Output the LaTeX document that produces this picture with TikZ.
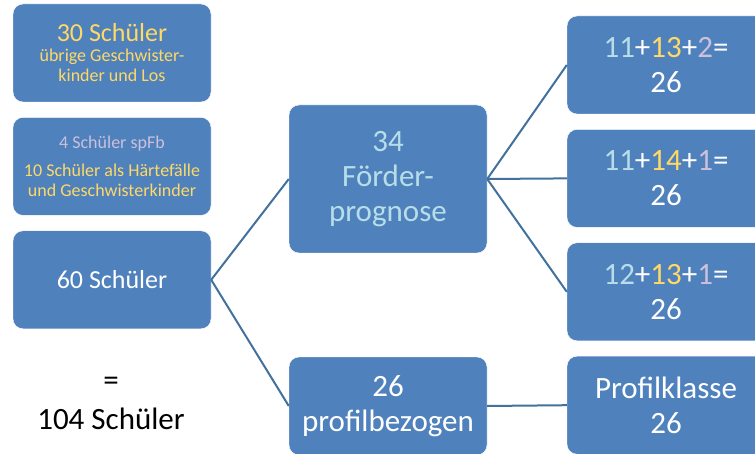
\documentclass[tikz,border=0pt]{standalone}
\usepackage{fontspec}
\setmainfont{Carlito}
\usepackage{xcolor}
\usetikzlibrary{positioning}
\definecolor{boxblue}{HTML}{4F81BD}
\definecolor{lineblue}{HTML}{41719C}
\definecolor{gold}{HTML}{FFD966}
\definecolor{aqua}{HTML}{B7DEE8}
\definecolor{lilac}{HTML}{CCC0DA}

\begin{document}
\begin{tikzpicture}[x=1pt, y=1pt, node distance=15pt, box/.style={rectangle, rounded corners=10pt, fill=boxblue, draw=white, thin, minimum width=198pt, minimum height=98pt, align=center, text=white, inner sep=2pt, font=\fontsize{31}{35}\selectfont}, small/.style={font=\fontsize{18}{20}\selectfont}, link/.style={draw=lineblue, line width=2pt}]
        \path[use as bounding box, clip] (0,0) rectangle (755,-454);

        % linke Spalte
        \node[box, small, text=gold] (a) at (112,-53) {{\fontsize{26}{28}\selectfont 30 Schüler}\\übrige Geschwister-\\kinder und Los};
        \node[box, small, below=of a] (b) {\textcolor{lilac}{4 Schüler spFb}\\[8pt]\textcolor{gold}{10 Schüler als Härtefälle}\\\textcolor{gold}{und Geschwisterkinder}};
        \node[box, below=of b, font=\fontsize{26}{28}\selectfont] (c) {60 Schüler};
        \node (sum) at (111,-403) [align=center, font=\fontsize{31}{39}\selectfont] {=\\104 Schüler};

        % mittlere Spalte
        \node[box, minimum height=148pt, text=aqua] (d) at (388,-179) {34\\Förder-\\prognose};
        \node[box] (e) at (388,-406) {26\\profilbezogen};

        % rechte Spalte
        \node[box] (f1) at (666,-65) {\textcolor{aqua}{11}+\textcolor{gold}{13}+\textcolor{lilac}{2}=\\26};
        \node[box, below=of f1] (f2) {\textcolor{aqua}{11}+\textcolor{gold}{14}+\textcolor{lilac}{1}=\\26};
        \node[box, below=of f2] (f3) {\textcolor{aqua}{12}+\textcolor{gold}{13}+\textcolor{lilac}{1}=\\26};
        \node[box, below=of f3] (f4) {Profilklasse\\26};

        \path (c.east) edge [link] (d.west)
              (c.east) edge [link] (e.west)
              (d.east) edge [link] (f1.west)
              (d.east) edge [link] (f2.west)
              (d.east) edge [link] (f3.west)
              (e.east) edge [link] (f4.west);
    \end{tikzpicture}
\end{document}
